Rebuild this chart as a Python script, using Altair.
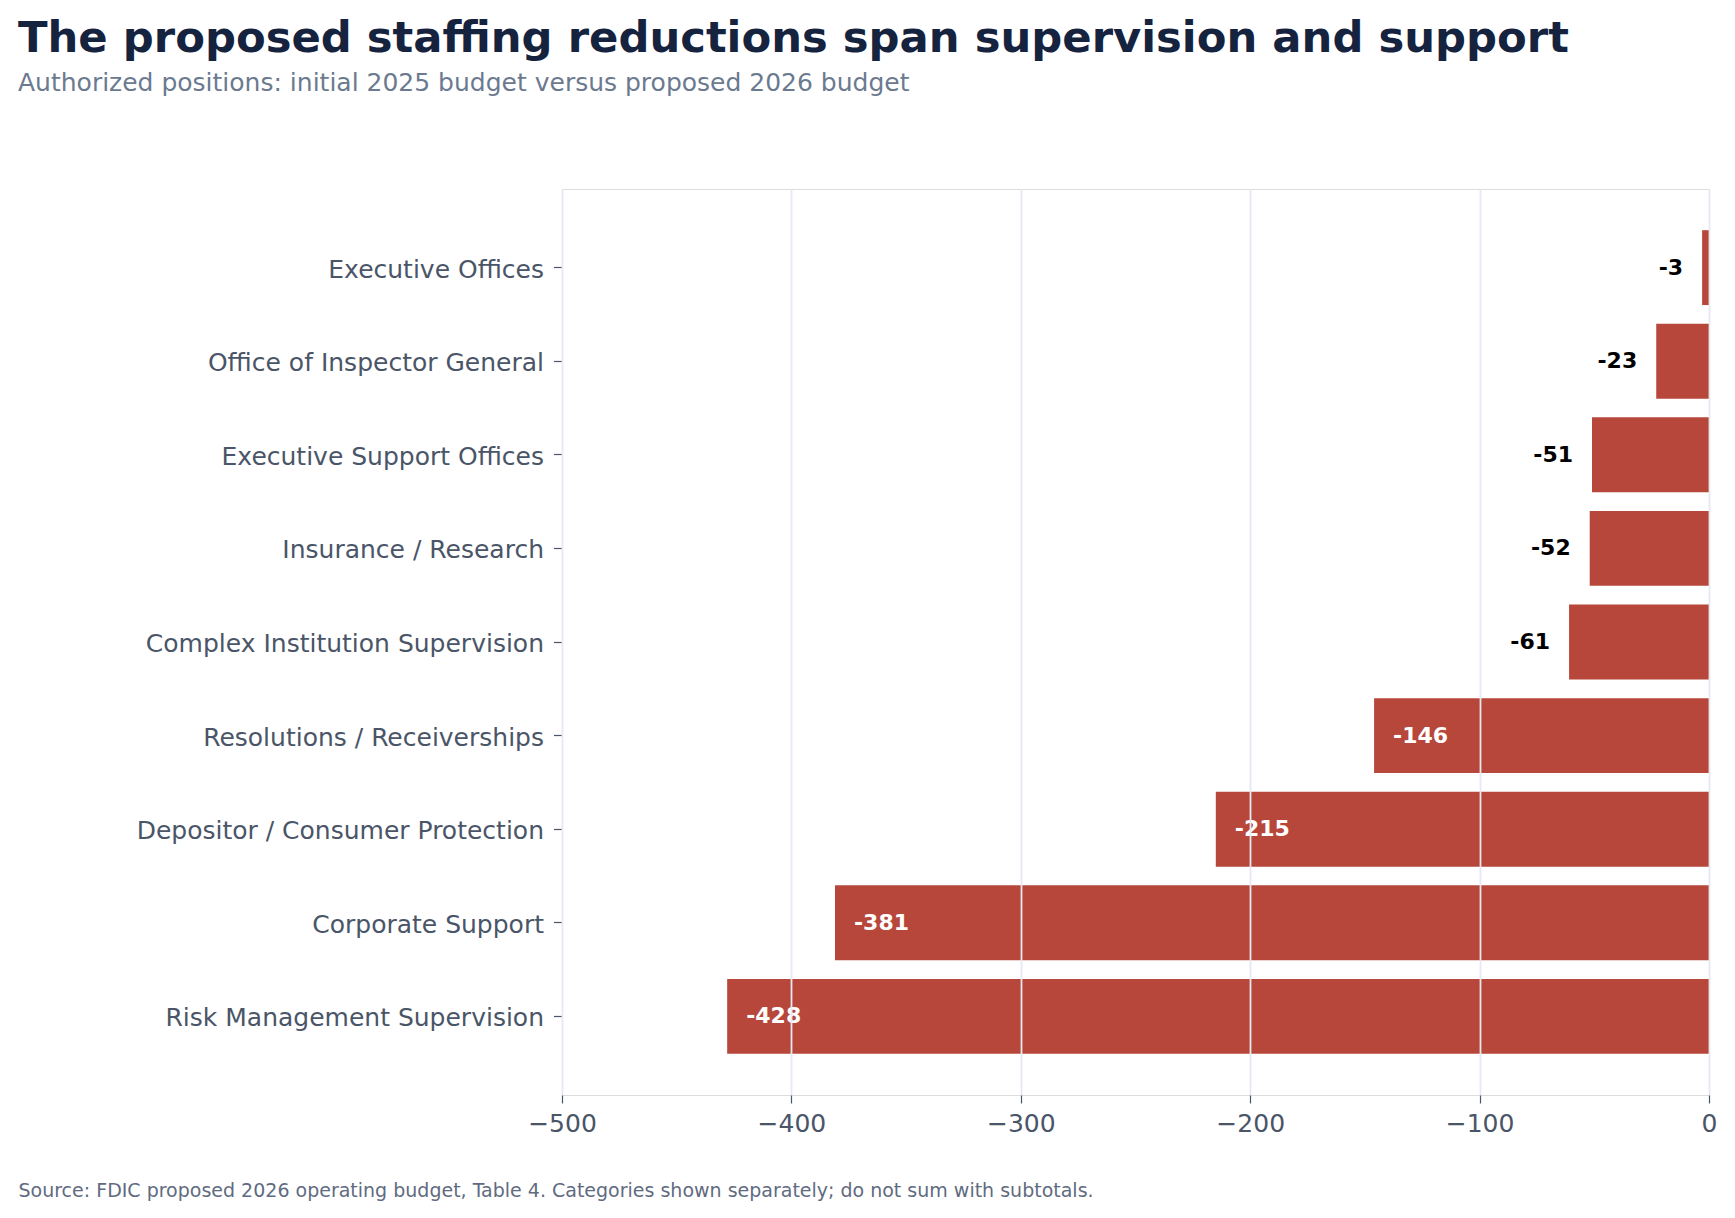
import altair as alt
import pandas as pd

categories = [
    "Executive Offices",
    "Office of Inspector General",
    "Executive Support Offices",
    "Insurance / Research",
    "Complex Institution Supervision",
    "Resolutions / Receiverships",
    "Depositor / Consumer Protection",
    "Corporate Support",
    "Risk Management Supervision",
]
changes = [-3, -23, -51, -52, -61, -146, -215, -381, -428]
x_ticks = [-500, -400, -300, -200, -100, 0]

title_text = "The proposed staffing reductions span supervision and support"
subtitle_text = "Authorized positions: initial 2025 budget versus proposed 2026 budget"
source_text = ("Source: FDIC proposed 2026 operating budget, Table 4. "
               "Categories shown separately; do not sum with subtotals.")

df = pd.DataFrame({
    "category": categories,
    "change": changes,
    "label": [str(v) for v in changes],
})

FONT = "DejaVu Sans"
BAR = "#b8473b"

y_enc = alt.Y(
    "category:N",
    sort=categories,
    scale=alt.Scale(paddingInner=0.2, paddingOuter=0.44),
    axis=alt.Axis(
        title=None, domain=False, ticks=True, tickSize=8.5, tickColor="#4a5568",
        tickWidth=1.2, labelPadding=10, labelFontSize=25, labelColor="#4a5568",
        labelFont=FONT, labelLimit=0, labelOffset=2, grid=False,
    ),
)

x_scale = alt.Scale(domain=[-500, 0], nice=False, zero=False)

bars = alt.Chart(df).mark_bar(color=BAR).encode(
    y=y_enc,
    x=alt.X(
        "change:Q",
        scale=x_scale,
        axis=alt.Axis(
            values=x_ticks, format="d", domain=False, tickSize=8, tickColor="#4a5568",
            tickWidth=1.2, labelPadding=8, labelFontSize=25, labelColor="#4a5568",
            labelFont=FONT, labelFlush=False, grid=True, gridColor="#e6e9f0",
            gridWidth=1.8, zindex=1,
            title=source_text, titleFont=FONT, titleFontSize=19, titleFontWeight="normal",
            titleColor="#5f6b80", titleAlign="left", titleBaseline="alphabetic",
            titleX=-544, titleY=101,
        ),
    ),
)

labels_out = alt.Chart(df).transform_filter("datum.change > -100").mark_text(
    align="right", baseline="middle", dx=-19, font=FONT, fontSize=22,
    fontWeight="bold", color="#000000",
).encode(y=alt.Y("category:N", sort=categories), x=alt.X("change:Q", scale=x_scale), text="label:N")

labels_in = alt.Chart(df).transform_filter("datum.change <= -100").mark_text(
    align="left", baseline="middle", dx=19, font=FONT, fontSize=22,
    fontWeight="bold", color="#ffffff",
).encode(y=alt.Y("category:N", sort=categories), x=alt.X("change:Q", scale=x_scale), text="label:N")

chart = alt.layer(bars, labels_out, labels_in).properties(
    width=1147,
    height=906,
    autosize=alt.AutoSizeParams(type="none"),
    padding={"left": 554, "top": 181, "right": 18, "bottom": 115},
    title=alt.TitleParams(
        text=title_text,
        subtitle=subtitle_text,
        anchor="start",
        frame="group",
        dx=-544,
        offset=92,
        font=FONT,
        fontSize=43.3,
        fontWeight="bold",
        color="#15233f",
        subtitleFont=FONT,
        subtitleFontSize=25,
        subtitleColor="#6b7a8f",
        subtitlePadding=10,
    ),
).configure_view(
    stroke="#d5d9e4", strokeWidth=1.5
).configure(background="white")

chart.save("out.html", embed_options={"renderer": "svg", "actions": False})
